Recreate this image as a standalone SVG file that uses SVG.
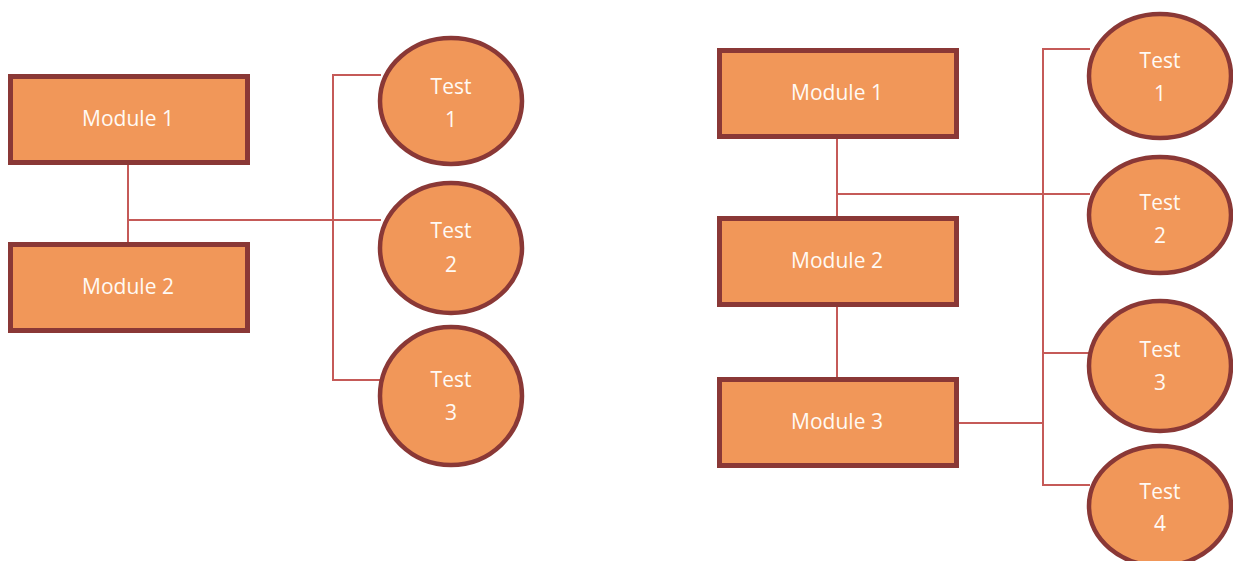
<svg xmlns="http://www.w3.org/2000/svg" width="1233" height="561" viewBox="0 0 1233 561">
  <style>
    .box { fill: #F19759; stroke: #8A3836; stroke-width: 5; }
    .test { fill: #F19759; stroke: #8A3836; stroke-width: 4.5; }
    .wire { fill: none; stroke: #C55A58; stroke-width: 2; }
    .lbl { font-family: "Open Sans", "Liberation Sans", sans-serif; font-size: 21px; fill: #FFFAF4; text-anchor: middle; }
  </style>
  <rect width="1233" height="561" fill="#ffffff"/>

  <!-- connectors -->
  <g id="connectors">
    <!-- left cluster -->
    <path class="wire" d="M128,164 V242"/>
    <path class="wire" d="M128,220 H381"/>
    <path class="wire" d="M381,75 H333 V380 H381"/>
    <!-- right cluster -->
    <path class="wire" d="M837,138 V216"/>
    <path class="wire" d="M837,194 H1090"/>
    <path class="wire" d="M837,306 V377"/>
    <path class="wire" d="M957,423 H1043"/>
    <path class="wire" d="M1090,49 H1043 V485 H1090"/>
    <path class="wire" d="M1043,353 H1090"/>
  </g>

  <!-- left cluster nodes -->
  <g id="l-module1">
    <rect class="box" x="10.5" y="76.5" width="237" height="86"/>
    <text class="lbl" x="128" y="126">Module 1</text>
  </g>
  <g id="l-module2">
    <rect class="box" x="10.5" y="244.5" width="237" height="86"/>
    <text class="lbl" x="128" y="294">Module 2</text>
  </g>
  <g id="l-test1">
    <ellipse class="test" cx="451" cy="101" rx="71" ry="63"/>
    <text class="lbl" x="451" y="94">Test</text>
    <text class="lbl" x="451" y="127">1</text>
  </g>
  <g id="l-test2">
    <ellipse class="test" cx="451" cy="248" rx="71" ry="65"/>
    <text class="lbl" x="451" y="238">Test</text>
    <text class="lbl" x="451" y="272">2</text>
  </g>
  <g id="l-test3">
    <ellipse class="test" cx="451" cy="396" rx="71" ry="69"/>
    <text class="lbl" x="451" y="387">Test</text>
    <text class="lbl" x="451" y="420">3</text>
  </g>

  <!-- right cluster nodes -->
  <g id="r-module1">
    <rect class="box" x="719.5" y="50.5" width="237" height="86"/>
    <text class="lbl" x="837" y="100">Module 1</text>
  </g>
  <g id="r-module2">
    <rect class="box" x="719.5" y="218.5" width="237" height="86"/>
    <text class="lbl" x="837" y="268">Module 2</text>
  </g>
  <g id="r-module3">
    <rect class="box" x="719.5" y="379.5" width="237" height="86"/>
    <text class="lbl" x="837" y="429">Module 3</text>
  </g>
  <g id="r-test1">
    <ellipse class="test" cx="1160" cy="76" rx="71" ry="62"/>
    <text class="lbl" x="1160" y="68">Test</text>
    <text class="lbl" x="1160" y="101">1</text>
  </g>
  <g id="r-test2">
    <ellipse class="test" cx="1160" cy="215" rx="71" ry="58"/>
    <text class="lbl" x="1160" y="210">Test</text>
    <text class="lbl" x="1160" y="243">2</text>
  </g>
  <g id="r-test3">
    <ellipse class="test" cx="1160" cy="366" rx="71" ry="65"/>
    <text class="lbl" x="1160" y="357">Test</text>
    <text class="lbl" x="1160" y="390">3</text>
  </g>
  <g id="r-test4">
    <ellipse class="test" cx="1160" cy="506" rx="71" ry="60"/>
    <text class="lbl" x="1160" y="499">Test</text>
    <text class="lbl" x="1160" y="531">4</text>
  </g>
</svg>
